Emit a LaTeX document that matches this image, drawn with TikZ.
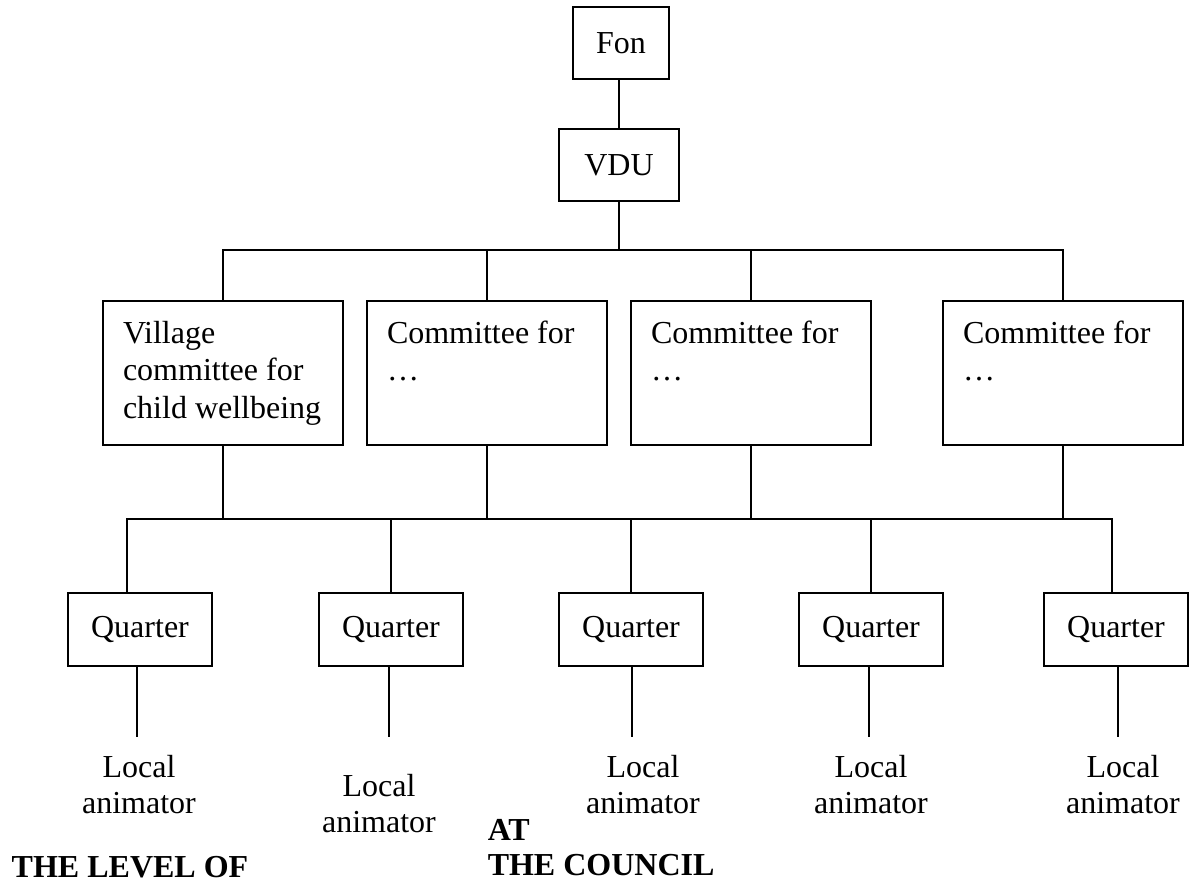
\documentclass[tikz,border=0pt]{standalone}
\usepackage{fontspec}
\setmainfont{Liberation Serif}
\begin{document}
\begin{tikzpicture}[x=0.5pt,y=-0.5pt,line width=0.75pt,
  font=\fontsize{16}{18.75}\selectfont,
  smallbox/.style={draw,inner sep=0pt,minimum height=36pt},
  cbox/.style={draw,inner xsep=10pt,inner ysep=0pt,text width=100pt,
    minimum height=72pt,align=flush left},
  qbox/.style={draw,inner sep=0pt,minimum width=72pt,minimum height=36.5pt},
  lab/.style={anchor=base,inner sep=0pt,align=center,
    font=\fontsize{16}{18}\selectfont},
  level/.style={anchor=base west,inner sep=0pt,align=flush left,
    font=\fontsize{16}{17.5}\selectfont\bfseries}]
\useasboundingbox (0,0) rectangle (1189,883);

\node[smallbox,minimum width=48pt] (fon) at (621,43) {Fon};
\node[smallbox,minimum width=60pt] (vdu) at (619,165) {VDU};

\node[cbox] (c1) at (223,373) {Village\\committee for\\child wellbeing};
\node[cbox] (c2) at (487,373) {Committee for\\\ldots\\\vphantom{g}};
\node[cbox] (c3) at (751,373) {Committee for\\\ldots\\\vphantom{g}};
\node[cbox] (c4) at (1063,373) {Committee for\\\ldots\\\vphantom{g}};

\node[qbox] (q1) at (140,629.5) {Quarter};
\node[qbox] (q2) at (391,629.5) {Quarter};
\node[qbox] (q3) at (631,629.5) {Quarter};
\node[qbox] (q4) at (871,629.5) {Quarter};
\node[qbox] (q5) at (1116,629.5) {Quarter};

\coordinate (top) at (619,250);
\coordinate (mid) at (619,519);

\draw (vdu.north) -- (vdu.north |- fon.south);
\draw (vdu) -- (top);
\foreach \c in {c1,c2,c3,c4}
  \draw (\c.north) |- (top) (\c.south) |- (mid);
\draw ([xshift=-6.5pt]q1.north) |- (mid);
\draw (q2.north) |- (mid);
\draw (q3.north) |- (mid);
\draw (q4.north) |- (mid);
\draw ([xshift=-2pt]q5.north) |- (mid);

\foreach \i/\x in {1/137,2/389,3/632,4/869,5/1118}{
  \coordinate (e\i) at (\x,737);
  \draw (e\i |- q\i.south) -- (e\i);
}

\node[lab] (l1) at (139,813) {Local\\animator};
\node[lab] (l2) at (379,832) {Local\\animator};
\node[lab] (l3) at (643,813) {Local\\animator};
\node[lab] (l4) at (871,813) {Local\\animator};
\node[lab] (l5) at (1123,813) {Local\\animator};

\node[level] (lvl) at (11,877) {THE LEVEL OF};
\node[level] (cnl) at (487,875) {AT\\THE COUNCIL};
\end{tikzpicture}
\end{document}
